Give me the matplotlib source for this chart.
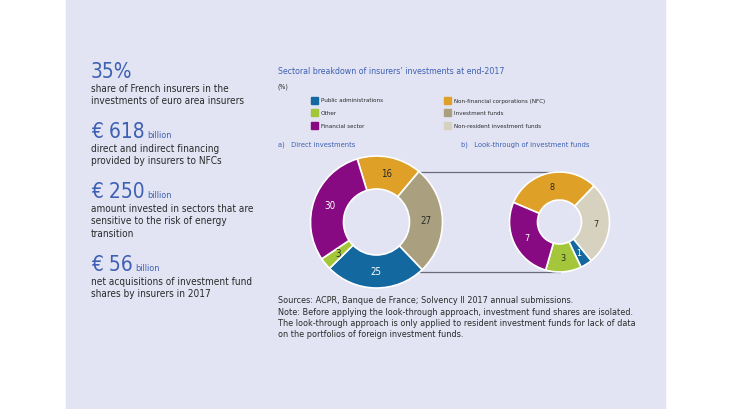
import matplotlib
matplotlib.use("Agg")
import matplotlib.pyplot as plt
import numpy as np
from matplotlib import font_manager

FONT = "DejaVu Sans"
plt.rcParams["font.family"] = FONT
cond = any("Condensed" in f.fname or f.stretch == "condensed" for f in font_manager.fontManager.ttflist if f.name == "DejaVu Sans")
ST = "condensed" if cond else "normal"
K = 1.0 if cond else 0.9
plt.rcParams["font.stretch"] = ST

# data
cats_a = ["Non-financial corporations (NFC)", "Investment funds", "Public administrations", "Other", "Financial sector"]
vals_a = [16, 27, 25, 3, 30]
cats_b = ["Non-financial corporations (NFC)", "Non-resident investment funds", "Public administrations", "Other", "Financial sector"]
vals_b = [8, 7, 1, 3, 7]
legend_left = ["Public administrations", "Other", "Financial sector"]
legend_right = ["Non-financial corporations (NFC)", "Investment funds", "Non-resident investment funds"]

colors = {"Public administrations": "#1468a0", "Other": "#a3c63b", "Financial sector": "#870a82",
          "Non-financial corporations (NFC)": "#dea027", "Investment funds": "#aaa07f",
          "Non-resident investment funds": "#d7d2c0"}
white_lbl = {"Public administrations", "Financial sector"}

BG = "#e2e4f3"; BLUE = "#3e60b2"; TXT = "#2a2a2a"
fig = plt.figure(figsize=(7.3, 4.1), dpi=100)
fig.patch.set_facecolor("white")
ax = fig.add_axes([0, 0, 1, 1])
H = 410
def Y(y): return H - y

def donut(cats, vals, cx, cy, r, w, start, fs):
    wedges, _ = ax.pie(vals, colors=[colors[c] for c in cats], startangle=start, counterclock=False,
                       center=(cx, Y(cy)), radius=r,
                       wedgeprops=dict(width=w, edgecolor="white", linewidth=1.2))
    for wd, v, c in zip(wedges, vals, cats):
        a = np.deg2rad((wd.theta1 + wd.theta2) / 2)
        rr = r - w / 2
        ax.text(cx + rr * np.cos(a), Y(cy) + rr * np.sin(a), str(v), ha="center", va="center",
                fontsize=fs, color="white" if c in white_lbl else TXT)

ax.add_patch(plt.Rectangle((66, 0), 599, H, color=BG, zorder=0))
ax.plot([420, 560], [Y(173), Y(173)], color="#6a6a7a", lw=0.9, zorder=0.5)
ax.plot([420, 560], [Y(273), Y(273)], color="#6a6a7a", lw=0.9, zorder=0.5)
donut(cats_a, vals_a, 376.5, 223, 66, 33, 107, 7)
donut(cats_b, vals_b, 559.5, 223, 50, 28, 157, 6.5)

ax.set_xlim(0, 730); ax.set_ylim(0, H); ax.set_aspect("auto"); ax.axis("off")

# left key figures
blocks = [("35%", "", 78, ["share of French insurers in the", "investments of euro area insurers"]),
          ("€ 618", "billion", 138, ["direct and indirect financing", "provided by insurers to NFCs"]),
          ("€ 250", "billion", 198, ["amount invested in sectors that are", "sensitive to the risk of energy", "transition"]),
          ("€ 56", "billion", 271, ["net acquisitions of investment fund", "shares by insurers in 2017"])]
for big, small, base, lines in blocks:
    t = ax.text(91, Y(base), big, fontsize=15 * K, color=BLUE, va="baseline", ha="left")
    if small:
        fig.canvas.draw()
        bb = t.get_window_extent()
        ax.text(bb.x1 + 3, Y(base), small, fontsize=6.5 * K, color=BLUE, va="baseline", ha="left")
    for i, l in enumerate(lines):
        ax.text(91, Y(base + 11 + 12.5 * i), l, fontsize=7.2 * K, color=TXT, va="center", ha="left")

ax.text(278, Y(71), "Sectoral breakdown of insurers’ investments at end-2017", fontsize=6.3 * K, color=BLUE, va="center")
ax.text(278, Y(87), "(%)", fontsize=5 * K, color=TXT, va="center")
for i, (l, r_) in enumerate(zip(legend_left, legend_right)):
    yy = Y(101 + 12.5 * i)
    ax.add_patch(plt.Rectangle((311, yy - 3.5), 7, 7, color=colors[l]))
    ax.text(321, yy, l, fontsize=4.5 * K, color=TXT, va="center")
    ax.add_patch(plt.Rectangle((444, yy - 3.5), 7, 7, color=colors[r_]))
    ax.text(454, yy, r_, fontsize=4.5 * K, color=TXT, va="center")
ax.text(278, Y(145), "a)   Direct investments", fontsize=5.4 * K, color=BLUE, va="center")
ax.text(461, Y(145), "b)   Look-through of investment funds", fontsize=5.4 * K, color=BLUE, va="center")

notes = ["Sources: ACPR, Banque de France; Solvency II 2017 annual submissions.",
         "Note: Before applying the look-through approach, investment fund shares are isolated.",
         "The look-through approach is only applied to resident investment funds for lack of data",
         "on the portfolios of foreign investment funds."]
for i, l in enumerate(notes):
    ax.text(278, Y(301 + 11.3 * i), l, fontsize=6.5 * K, color=TXT, va="center")

fig.savefig("out.png", dpi=100, facecolor="white")
